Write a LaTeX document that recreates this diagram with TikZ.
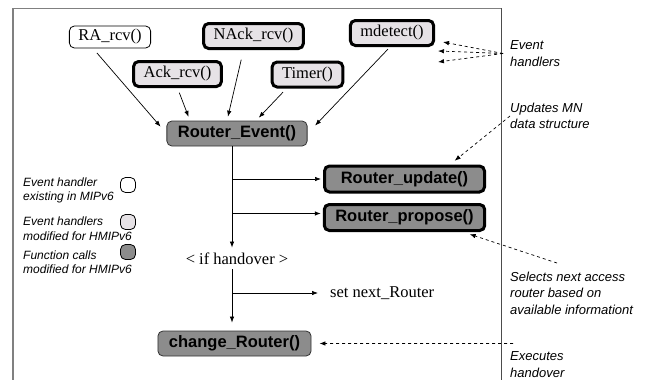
\documentclass[tikz,border=0pt]{standalone}
\usepackage{fontspec}
\setmainfont{Liberation Serif}
\setsansfont{Liberation Sans}
\usepackage{tikz}
\usetikzlibrary{arrows.meta,positioning}
\definecolor{HandlerGray}{HTML}{E6E2E6}
\definecolor{CallGray}{HTML}{8C8C8C}
\definecolor{FrameGray}{HTML}{808080}

\begin{document}
\begin{tikzpicture}[x=1pt, y=-1pt,
    every node/.style={font=\fontsize{16.5}{18}\selectfont},
    handler/.style={draw, rounded corners=5pt, line width=0.8pt, inner xsep=9pt, minimum height=22pt},
    modhandler/.style={handler, fill=HandlerGray, line width=3pt, inner xsep=10pt, minimum height=25pt},
    call/.style={draw=black!80, fill=CallGray, rounded corners=5pt, line width=0.8pt, inner xsep=11pt, minimum height=25pt,
        font=\sffamily\bfseries\fontsize{16.5}{18}\selectfont},
    modcall/.style={call, draw=black, line width=3pt, minimum width=160pt, minimum height=26pt},
    note/.style={font=\sffamily\itshape\fontsize{13}{16.5}\selectfont, align=left, anchor=west, inner sep=0pt},
    legtext/.style={note, font=\sffamily\itshape\fontsize{12}{14.5}\selectfont},
    legmark/.style={draw, rounded corners=5pt, minimum size=15pt, inner sep=0pt, line width=0.8pt},
    flow/.style={-{Latex[length=6pt,width=4.5pt]}, line width=0.7pt},
    hint/.style={flow, dash pattern=on 3pt off 3pt}]
    \useasboundingbox (0,0) rectangle (651,380);

    % Frame
    \draw[FrameGray, line width=2pt] (13,380) -- (13,8);
    \draw[FrameGray, line width=1pt] (13,8) -- (501,8);
    \draw[black!70, line width=1pt] (501,8) -- (501,380);

    % Event handlers
    \node[handler] (RA) at (110,37) {RA\_rcv()};
    \node[modhandler] (NAck) at (253.5,36) {NAck\_rcv()};
    \node[modhandler] (Ack) at (177.5,74) {Ack\_rcv()};
    \node[modhandler] (Timer) at (307.5,74.5) {Timer()};
    \node[modhandler] (mdetect) at (392,33) {mdetect()};

    % Function calls
    \node[call] (RE) at (237,133.5) {Router\_Event()};
    \node[modcall] (RU) at (404.5,179) {Router\_update()};
    \node[modcall] (RP) at (404.5,217.5) {Router\_propose()};
    \node (ifh) at (237,259) {< if handover >};
    \node[anchor=west, inner sep=0pt] (setR) at (330,293) {set next\_Router};
    \node[call] (CR) at (234.5,343.5) {change\_Router()};

    % Handlers into Router_Event()
    \draw[flow, shorten <=6pt, shorten >=9pt] ([xshift=-17pt]RA.south) -- (RE.west);
    \draw[flow, shorten <=5pt, shorten >=4pt] (Ack.south) -- ([xshift=-47pt]RE.north);
    \draw[flow, shorten <=10pt, shorten >=4pt] ([xshift=-10pt]NAck.south) -- ([xshift=-10pt]RE.north);
    \draw[flow, shorten <=5pt, shorten >=4pt] ([xshift=-21pt]Timer.south) -- ([xshift=19pt]RE.north);
    \draw[flow, shorten <=3pt, shorten >=11pt] ([xshift=-2pt]mdetect.south) -- (RE.east);

    % Main flow
    \coordinate (spine) at (232,146);
    \draw[flow, shorten >=2pt] (RE.south -| spine) -- (ifh.north -| spine);
    \draw[flow, shorten >=2pt] (RU.west -| spine) -- (RU.west);
    \draw[flow, shorten >=2pt] ([yshift=4pt]RP.west -| spine) -- ([yshift=4pt]RP.west);
    \draw[flow, shorten <=1pt, shorten >=8pt] (ifh.south -| spine) -- (CR.north -| spine);
    \draw[flow, shorten >=12pt] (setR.west -| spine) -- (setR.west);

    % Notes
    \node[note] (evnote) at (510,53.5) {Event\\handlers};
    \coordinate (eh1) at (443,42);
    \coordinate (eh2) at (438,51);
    \coordinate (eh3) at (438,62);
    \foreach \tip in {eh1,eh2,eh3}
        \draw[hint] ([xshift=-7pt]evnote.west) -- (\tip);

    \node[note] (updnote) at (510,116) {Updates MN\\data structure};
    \draw[hint, shorten >=6pt] (updnote.west) -- ([xshift=45.5pt]RU.north);

    \node[note] (selnote) at (510,293) {Selects next access\\router based on\\available informationt};
    \draw[hint, shorten >=7pt] ([xshift=47pt,yshift=8.5pt]selnote.north west) -- ([xshift=58.5pt]RP.south);

    \node[note] (exenote) at (510,364.5) {Executes\\handover};
    \draw[hint, shorten >=8pt] ([xshift=3pt,yshift=8pt]exenote.north west) -- (CR.east);

    % Legend
    \node[legtext] (leg1) at (23,190.5) {Event handler\\existing in MIPv6};
    \node[legmark] (mark1) at (128,185) {};
    \node[legtext] (leg2) at (23,228.5) {Event handlers\\modified for HMIPv6};
    \node[legmark, fill=HandlerGray] (mark2) at (128,222) {};
    \node[legtext] (leg3) at (23,262) {Function calls\\modified for HMIPv6};
    \node[legmark, fill=CallGray] (mark3) at (128,252) {};
\end{tikzpicture}
\end{document}
